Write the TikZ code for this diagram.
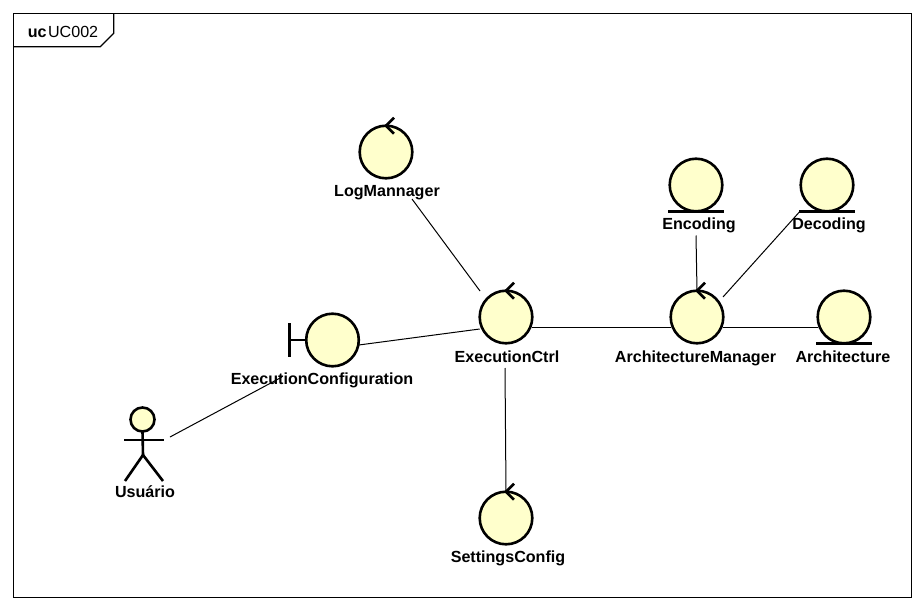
\documentclass[tikz,border=0pt]{standalone}
\usepackage{fontspec}
\setmainfont{Liberation Sans}
\tikzset{
  x=1pt,y=-1pt,
  frameline/.style={draw=black,line width=1.1pt},
  icon/.style={circle,draw=black,fill=iconfill,line width=2.6pt,minimum size=52.6pt,inner sep=0pt,outer sep=0pt},
  mark line/.style={draw=black,line width=2.6pt},
  conn/.style={draw=black,line width=1pt},
  lbl/.style={font=\fontsize{16.1}{18}\selectfont\bfseries,text height=12pt,text depth=4pt,inner sep=0pt,outer sep=0pt,text=black,anchor=center},
}
\definecolor{iconfill}{HTML}{FFFFCC}
\begin{document}
\begin{tikzpicture}
\useasboundingbox (0,0) rectangle (924,610);
\fill[white] (0,0) rectangle (924,610);
% frame
\node[frameline,rectangle,minimum width=898pt,minimum height=584pt,inner sep=0pt,outer sep=0pt] (frame) at (462.75,305.75) {};
\draw[frameline] ([yshift=-33pt]frame.north west) -- ([xshift=86.5pt,yshift=-33pt]frame.north west) -- ([xshift=100pt,yshift=-19.5pt]frame.north west) -- ([xshift=100pt]frame.north west);
\node[font=\fontsize{16.1}{18}\selectfont,anchor=center,inner sep=0pt] (title) at (63,32) {\textbf{uc}\kern1.5pt UC002};
% icons
\node[icon] (log) at (386,152) {};
\node[icon] (exec) at (506,317) {};
\node[icon] (cfg) at (332.5,340) {};
\node[icon] (enc) at (696,185) {};
\node[icon] (dec) at (827,185) {};
\node[icon] (am) at (697,317) {};
\node[icon] (arch) at (844,317) {};
\node[icon] (set) at (506,518) {};
% labels
\node[lbl] (logl) at (387,192) {LogMannager};
\node[lbl] (execl) at (507,358) {ExecutionCtrl};
\node[lbl] (cfgl) at (322,380) {ExecutionConfiguration};
\node[lbl] (encl) at (699,225.5) {Encoding};
\node[lbl] (decl) at (829,225.5) {Decoding};
\node[lbl] (aml) at (695.5,358) {ArchitectureManager};
\node[lbl] (archl) at (843,358) {Architecture};
\node[lbl] (setl) at (508,558.7) {SettingsConfig};
\node[lbl] (userl) at (145,493.3) {Usuário};
% control chevrons
\draw[mark line] ([xshift=8pt,yshift=8pt]log.north) -- (log.north) -- ([xshift=8pt,yshift=-8pt]log.north);
\draw[mark line] ([xshift=8pt,yshift=8pt]exec.north) -- (exec.north) -- ([xshift=8pt,yshift=-8pt]exec.north);
\draw[mark line] ([xshift=8pt,yshift=8pt]am.north) -- (am.north) -- ([xshift=8pt,yshift=-8pt]am.north);
\draw[mark line] ([xshift=8pt,yshift=8pt]set.north) -- (set.north) -- ([xshift=8pt,yshift=-8pt]set.north);
% boundary mark
\draw[mark line] (cfg.west) -- ([xshift=-17pt]cfg.west);
\draw[mark line] ([xshift=-17pt,yshift=17pt]cfg.west) -- ([xshift=-17pt,yshift=-17pt]cfg.west);
% entity marks
\draw[mark line] ([xshift=-28pt]enc.south) -- ([xshift=28pt]enc.south);
\draw[mark line] ([xshift=-28pt]dec.south) -- ([xshift=28pt]dec.south);
\draw[mark line] ([xshift=-28pt]arch.south) -- ([xshift=28pt]arch.south);
% actor
\node[circle,draw=black,fill=iconfill,line width=2.6pt,minimum size=24pt,inner sep=0pt,outer sep=0pt] (head) at (142.5,419.5) {};
\coordinate (hip) at (143,455);
\coordinate (armL) at (124,440);
\coordinate (armR) at (163.5,440);
\coordinate (footL) at (125,481);
\coordinate (footR) at (163,481);
\draw[mark line] (head.south) -- (hip);
\draw[mark line] (armL) -- (armR);
\draw[mark line] (footL) -- (hip) -- (footR);
\coordinate (user) at (170,437);
% connectors
\draw[conn] (user) -- ([xshift=-40pt,yshift=-5pt]cfgl.north);
\draw[conn] ([yshift=-5pt]cfg.east) -- ([yshift=-12pt]exec.west);
\draw[conn] ([xshift=25pt,yshift=-7pt]logl.center) -- ([xshift=-26pt,yshift=26pt]exec.center);
\draw[conn] ([xshift=-2pt,yshift=-2pt]execl.south) -- (set.north);
\draw[conn] ([yshift=-10pt]exec.east) -- ([yshift=-10pt]am.west);
\draw[conn] ([xshift=-3pt,yshift=-2pt]encl.south) -- (am.north);
\draw[conn] ([xshift=26pt,yshift=20pt]am.center) -- ([xshift=-27pt]dec.south);
\draw[conn] ([yshift=-10pt]am.east) -- ([yshift=-10pt]arch.west);
\end{tikzpicture}
\end{document}
